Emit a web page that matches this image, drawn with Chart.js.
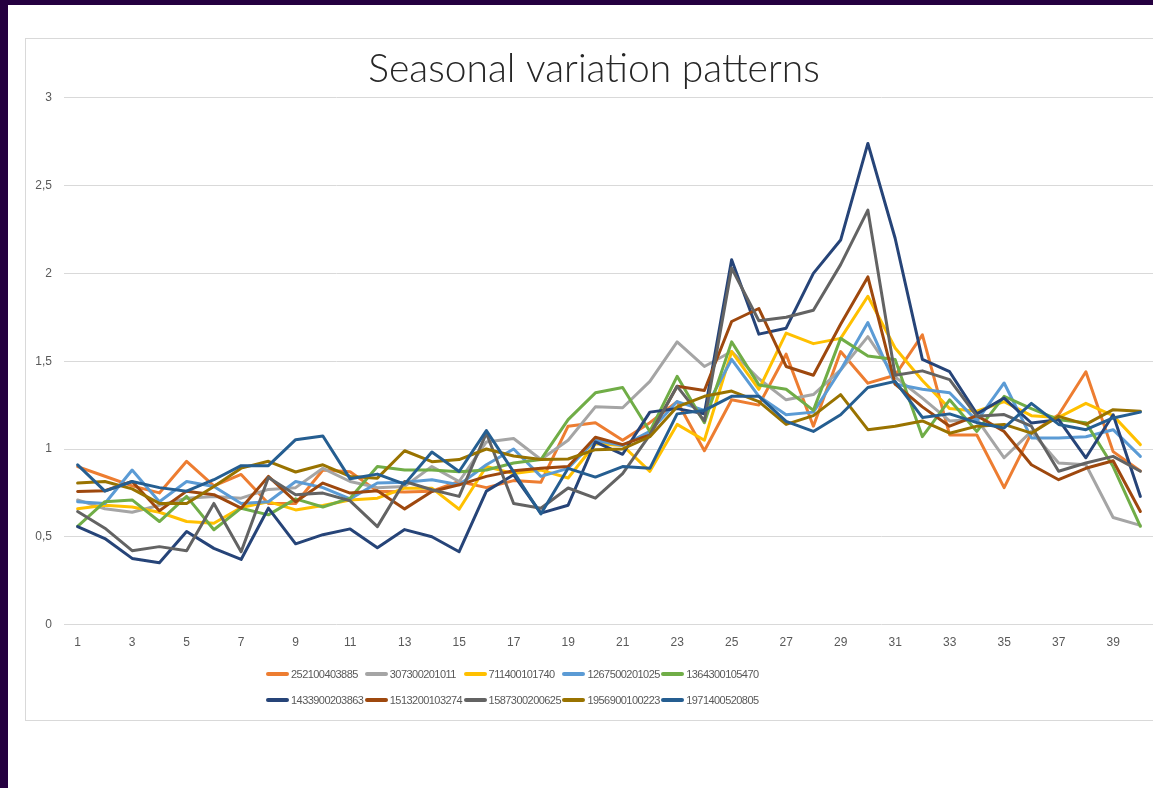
<!DOCTYPE html>
<html>
<head>
<meta charset="utf-8">
<script src="https://cdn.jsdelivr.net/npm/chart.js@4.4.1/dist/chart.umd.min.js"></script>
<style>
  html, body { margin:0; padding:0; width:1153px; height:788px; overflow:hidden; background:#ffffff; }
  #topbar { position:absolute; left:0; top:0; width:1153px; height:5px; background:#250040; }
  #leftbar { position:absolute; left:0; top:0; width:8px; height:788px; background:#250040; }
  #box { position:absolute; left:25px; top:38px; width:1160px; height:681px; border:1px solid #d9d9d9; background:#fff; }
  #chart { position:absolute; left:0; top:0; }
  #legend { position:absolute; left:0; top:0; width:100%; height:100%; pointer-events:none;
            font-family:'Liberation Sans',Arial,sans-serif; font-size:11px; letter-spacing:-0.55px; color:#595959; }
  .item { position:absolute; height:14px; line-height:14px; white-space:nowrap; }
  .swatch { display:inline-block; width:23px; height:4px; border-radius:2px; vertical-align:middle; margin-right:2px; position:relative; top:-1px; }
</style>
</head>
<body>
<div id="topbar"></div>
<div id="leftbar"></div>
<div id="box">
  <canvas id="chart" width="1145" height="624"></canvas>
  <div id="legend"></div>
</div>
<script>
// ---- data ----
const categories = ['1','2','3','4','5','6','7','8','9','10','11','12','13','14','15','16','17','18','19','20',
                    '21','22','23','24','25','26','27','28','29','30','31','32','33','34','35','36','37','38','39','40'];

const seriesNames = ['252100403885','307300201011','711400101740','1267500201025','1364300105470',
                     '1433900203863','1513200103274','1587300200625','1956900100223','1971400520805'];

const s252100403885 = [0.90,0.845,0.79,0.75,0.93,0.79,0.855,0.69,0.69,0.88,0.87,0.76,0.755,0.76,0.815,0.78,0.82,0.81,1.13,1.15,
                       1.05,1.15,1.27,0.99,1.28,1.25,1.54,1.13,1.555,1.375,1.42,1.65,1.08,1.08,0.78,1.09,1.195,1.44,0.985,0.875];
const s307300201011 = [0.71,0.66,0.64,0.68,0.72,0.73,0.72,0.77,0.78,0.89,0.815,0.78,0.787,0.90,0.815,1.04,1.06,0.94,1.05,1.24,
                       1.235,1.385,1.61,1.47,1.555,1.40,1.28,1.31,1.45,1.64,1.41,1.29,1.16,1.17,0.95,1.10,0.92,0.91,0.61,0.565];
const s711400101740 = [0.66,0.68,0.67,0.64,0.587,0.577,0.667,0.70,0.653,0.678,0.71,0.72,0.777,0.777,0.657,0.90,0.86,0.88,0.835,1.03,
                       1.02,0.873,1.14,1.05,1.555,1.34,1.66,1.60,1.63,1.87,1.575,1.39,1.23,1.215,1.27,1.19,1.18,1.26,1.19,1.025];
const s1267500201025 = [0.70,0.69,0.88,0.70,0.815,0.787,0.69,0.70,0.815,0.78,0.716,0.806,0.81,0.825,0.796,0.91,1.0,0.844,0.89,1.05,
                        1.02,1.10,1.27,1.22,1.51,1.30,1.195,1.21,1.45,1.72,1.37,1.34,1.32,1.16,1.376,1.063,1.063,1.07,1.11,0.958];
const s1364300105470 = [0.56,0.70,0.71,0.587,0.73,0.54,0.663,0.625,0.716,0.67,0.72,0.90,0.88,0.88,0.87,0.88,0.92,0.94,1.167,1.32,
                        1.35,1.10,1.414,1.15,1.61,1.365,1.34,1.22,1.63,1.53,1.51,1.07,1.28,1.10,1.30,1.23,1.167,1.15,0.90,0.56];
const s1433900203863 = [0.558,0.49,0.377,0.352,0.53,0.434,0.371,0.663,0.46,0.512,0.545,0.438,0.541,0.50,0.415,0.76,0.853,0.635,0.68,1.04,
                        0.97,1.21,1.23,1.20,2.078,1.654,1.688,2.0,2.19,2.74,2.20,1.51,1.44,1.20,1.29,1.148,1.167,0.95,1.195,0.73];
const s1513200103274 = [0.758,0.762,0.815,0.648,0.76,0.74,0.663,0.844,0.70,0.806,0.749,0.762,0.659,0.758,0.796,0.844,0.876,0.89,0.90,1.067,
                        1.025,1.08,1.357,1.333,1.726,1.80,1.47,1.42,1.71,1.98,1.37,1.24,1.13,1.19,1.10,0.91,0.825,0.89,0.933,0.644];
const s1587300200625 = [0.644,0.549,0.421,0.444,0.421,0.69,0.415,0.838,0.739,0.749,0.705,0.558,0.815,0.768,0.73,1.09,0.69,0.663,0.778,0.72,
                        0.86,1.08,1.357,1.16,2.03,1.73,1.75,1.79,2.05,2.36,1.42,1.445,1.395,1.186,1.196,1.13,0.873,0.92,0.958,0.873];
const s1956900100223 = [0.806,0.815,0.773,0.69,0.69,0.787,0.891,0.93,0.869,0.91,0.844,0.834,0.99,0.928,0.94,1.0,0.96,0.94,0.943,0.996,
                        1.0,1.07,1.24,1.30,1.33,1.27,1.14,1.19,1.31,1.11,1.13,1.16,1.09,1.13,1.14,1.09,1.186,1.14,1.224,1.215];
const s1971400520805 = [0.91,0.76,0.815,0.78,0.76,0.825,0.905,0.905,1.053,1.074,0.83,0.857,0.80,0.983,0.872,1.105,0.87,0.63,0.89,0.84,
                        0.90,0.89,1.20,1.22,1.30,1.30,1.157,1.10,1.195,1.35,1.385,1.18,1.20,1.15,1.12,1.26,1.14,1.11,1.177,1.21];

const seriesValues = [s252100403885, s307300201011, s711400101740, s1267500201025, s1364300105470,
                      s1433900203863, s1513200103274, s1587300200625, s1956900100223, s1971400520805];

const yTicks = { min: 0, max: 3, step: 0.5 };
const chartTitle = 'Seasonal variation patterns';

// ---- styles ----
const colors = ['#ED7D31','#A5A5A5','#FFC000','#5B9BD5','#70AD47','#264478','#9E480E','#636363','#997300','#255E91'];
const tickFont = "'Liberation Sans', Arial, sans-serif";

const datasets = seriesNames.map((name, i) => ({
  label: name,
  data: seriesValues[i],
  borderColor: colors[i],
  backgroundColor: colors[i],
  borderWidth: 3,
  pointRadius: 0,
  pointHoverRadius: 0,
  tension: 0,
  fill: false,
  borderCapStyle: 'round',
  borderJoinStyle: 'round',
  order: seriesNames.length - i
}));

const chart = new Chart(document.getElementById('chart'), {
  type: 'line',
  data: { labels: categories, datasets },
  options: {
    responsive: false,
    animation: false,
    devicePixelRatio: 1,
    layout: { padding: { left: 8, right: 17, top: 0, bottom: 2 } },
    plugins: {
      legend: { display: false },
      tooltip: { enabled: false },
      title: {
        display: true,
        text: chartTitle,
        color: '#262626',
        font: { family: 'Lato, sans-serif', size: 39, weight: '300' },
        padding: { top: 7, bottom: 5 }
      }
    },
    scales: {
      x: {
        type: 'category',
        offset: true,
        grid: { display: false, drawTicks: false },
        border: { display: false },
        ticks: {
          autoSkip: false, maxRotation: 0, minRotation: 0, padding: 11,
          color: '#595959', font: { family: tickFont, size: 12 },
          callback: function(value, index) { return index % 2 === 0 ? this.getLabelForValue(value) : ''; }
        }
      },
      y: {
        min: yTicks.min, max: yTicks.max,
        afterFit: (scale) => { scale.width = 30; },
        grid: { color: '#d9d9d9', lineWidth: 1, drawTicks: false },
        border: { display: false },
        ticks: {
          stepSize: yTicks.step, padding: 12,
          color: '#595959', font: { family: tickFont, size: 12 },
          callback: (v) => String(v).replace('.', ',')
        }
      }
    }
  }
});

// HTML legend built from the chart's datasets (2 rows x 5 columns)
const legend = document.getElementById('legend');
chart.data.datasets.forEach((ds, i) => {
  const row = Math.floor(i / 5), col = i % 5;
  const el = document.createElement('div');
  el.className = 'item';
  el.style.left = (240 + col * 98.8) + 'px';
  el.style.top = (628 + row * 26) + 'px';
  const sw = document.createElement('span');
  sw.className = 'swatch';
  sw.style.background = ds.borderColor;
  el.appendChild(sw);
  el.appendChild(document.createTextNode(ds.label));
  legend.appendChild(el);
});
</script>
</body>
</html>
